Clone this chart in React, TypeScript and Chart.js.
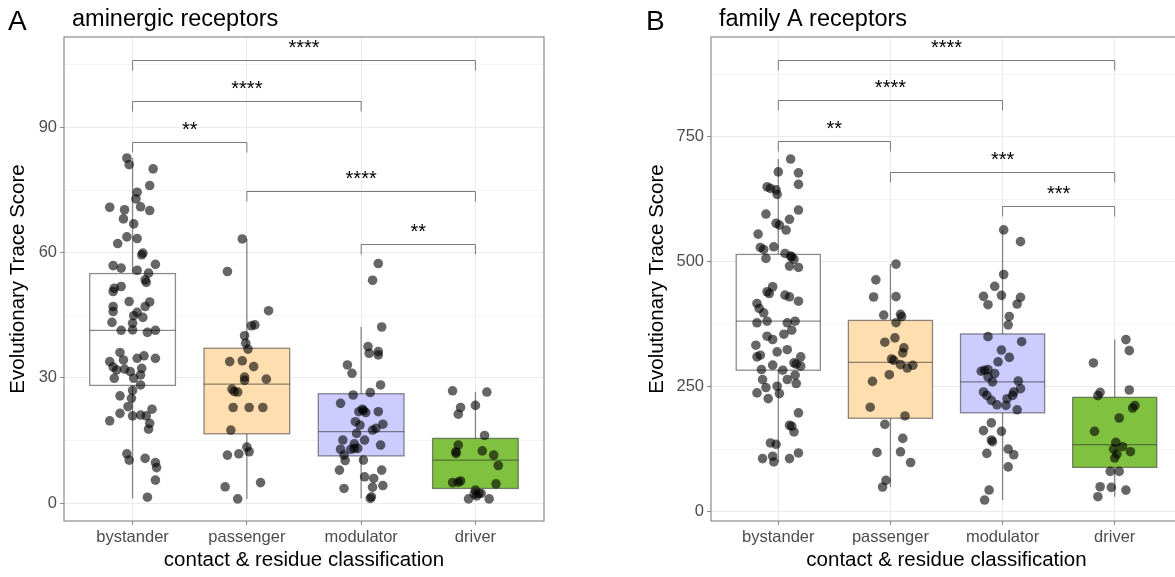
import React, { useEffect, useRef } from "react";
import { Chart, registerables } from "chart.js";

Chart.register(...registerables);

const FONT = "'Liberation Sans', Arial, sans-serif";

// ---------- shared ----------
const categories = ["bystander", "passenger", "modulator", "driver"];
const boxFills = ["#FFFFFF", "#FFDFB0", "#CCCCFF", "#80C140"];
const xAxisTitle = "contact & residue classification";
const yAxisTitle = "Evolutionary Trace Score";

// ---------- panel A : aminergic receptors ----------
const aYMajor = [0, 30, 60, 90];
const aYMinor = [15, 45, 75, 105];
const aQ1 = [28.2, 16.6, 11.3, 3.5];
const aMedian = [41.4, 28.5, 17.1, 10.3];
const aQ3 = [55.0, 37.1, 26.2, 15.5];
const aWhiskerLow = [1.1, 1.0, 1.1, 1.0];
const aWhiskerHigh = [82.7, 63.3, 42.2, 26.7];

const aBystander = [82.7, 81.1, 80.1, 76.1, 74.5, 72.9, 70.9, 70.3, 71.0, 70.1, 68.1, 66.9, 63.8, 62.2, 63.4, 59.9, 59.5, 56.9, 56.3, 57.2, 55.8, 55.1, 53.5, 52.9, 51.5, 51.9, 50.7, 48.3, 48.2, 47.1, 47.1, 45.9, 45.7, 44.9, 44.5, 43.3, 43.1, 41.4, 41.5, 40.9, 41.4, 36.1, 33.9, 34.3, 34.7, 35.3, 34.7, 32.6, 31.9, 32.1, 31.5, 32.3, 30.7, 29.9, 29.9, 28.3, 27.0, 25.1, 25.7, 23.1, 21.5, 19.7, 20.9, 21.1, 22.5, 20.9, 19.1, 17.7, 11.8, 10.3, 10.7, 9.7, 8.5, 5.5, 1.4];
const aBystanderJitter = [-0.05, -0.03, 0.18, 0.15, 0.04, 0.03, -0.2, -0.07, 0.07, 0.15, -0.08, 0.01, -0.05, -0.13, 0.04, 0.09, 0.08, -0.17, -0.1, 0.2, 0.04, 0.14, 0.11, 0.12, -0.16, -0.1, -0.17, -0.03, 0.15, 0.11, -0.17, -0.17, 0.04, 0.01, 0.09, -0.18, 0.0, -0.1, 0.0, 0.13, 0.2, -0.11, -0.2, -0.08, 0.04, 0.1, 0.2, -0.17, -0.14, -0.07, -0.02, 0.08, 0.07, -0.16, 0.01, 0.07, 0.0, -0.01, -0.11, -0.04, -0.11, -0.2, 0.0, 0.07, 0.17, 0.12, 0.15, 0.14, -0.05, -0.03, 0.11, 0.2, 0.21, 0.2, 0.13];
const aPassenger = [63.3, 55.5, 46.1, 42.5, 42.7, 40.1, 38.3, 36.9, 33.9, 34.1, 32.7, 30.2, 29.4, 29.7, 27.3, 26.7, 26.6, 22.9, 22.9, 22.9, 17.5, 13.4, 12.3, 11.5, 11.8, 3.9, 4.9, 1.0];
const aPassengerJitter = [-0.04, -0.17, 0.19, 0.04, 0.07, -0.02, -0.01, 0.01, -0.15, -0.04, 0.06, -0.02, -0.02, 0.17, -0.13, -0.11, -0.08, -0.12, 0.02, 0.14, -0.14, 0.0, 0.02, -0.17, -0.07, -0.19, 0.12, -0.08];
const aModulator = [57.4, 53.4, 42.2, 37.5, 35.9, 36.3, 35.5, 33.1, 31.1, 28.3, 26.5, 25.9, 23.9, 22.5, 22.2, 21.9, 21.7, 21.9, 19.5, 18.9, 18.7, 17.9, 17.5, 16.7, 15.1, 15.1, 13.9, 14.2, 12.9, 12.9, 13.1, 13.1, 11.5, 10.2, 10.3, 7.9, 7.9, 6.3, 5.9, 4.2, 3.5, 3.8, 1.5, 1.1];
const aModulatorJitter = [0.15, 0.1, 0.18, 0.06, 0.07, 0.15, 0.15, -0.12, -0.08, 0.17, 0.08, -0.07, -0.18, 0.01, 0.02, -0.02, 0.04, 0.15, -0.05, 0.19, -0.01, 0.13, 0.1, -0.04, -0.16, 0.03, 0.17, -0.06, -0.18, -0.09, -0.06, -0.03, -0.15, -0.14, 0.02, -0.19, 0.18, 0.03, 0.11, 0.19, -0.15, 0.1, 0.09, 0.08];
const aDriver = [26.9, 26.6, 22.9, 21.3, 23.4, 16.2, 13.9, 12.3, 11.9, 12.5, 11.5, 9.0, 4.9, 5.3, 5.0, 4.6, 3.1, 2.2, 2.3, 1.0, 2.3, 1.0, 1.7];
const aDriverJitter = [-0.2, 0.1, -0.13, -0.15, 0.0, 0.08, -0.15, -0.17, -0.17, 0.06, 0.16, 0.2, -0.2, -0.13, -0.15, 0.18, 0.0, -0.01, 0.03, -0.06, 0.05, 0.12, 0.01];

const aBracketFrom = [1, 1, 1, 2, 3];
const aBracketTo = [4, 3, 2, 4, 4];
const aBracketY = [106.2, 96.4, 86.6, 74.8, 62.2];
const aBracketLabel = ["****", "****", "**", "****", "**"];

// ---------- panel B : family A receptors ----------
const bYMajor = [0, 250, 500, 750];
const bYMinor = [125, 375, 625, 875];
const bQ1 = [282.9, 186.7, 197.6, 88.3];
const bMedian = [381, 298.7, 259.4, 133.8];
const bQ3 = [514.7, 382.6, 355.5, 228.6];
const bWhiskerLow = [99, 49, 22.9, 29.6];
const bWhiskerHigh = [705.7, 495.3, 563.8, 344.2];

const bBystander = [705.7, 680, 678, 655, 650, 647, 644, 635, 603.5, 595.5, 585, 577, 573.5, 563.5, 555.4, 528.7, 530, 524.7, 516.7, 511.4, 510, 504.7, 506.7, 491.3, 488.6, 450, 440, 436.5, 433.2, 429.9, 421, 416.5, 406.5, 397.8, 377.8, 381, 377.8, 381, 363, 355, 351, 344.4, 333, 319.6, 324, 309.6, 312.9, 309.6, 297.6, 295, 291, 293, 282.9, 284.2, 264.2, 264.2, 272.9, 256.2, 248.2, 250.8, 237.5, 236.1, 226.1, 197.4, 172.7, 170.7, 159.3, 137.3, 134.6, 105.9, 110.6, 99.2, 105.9, 117.2];
const bBystanderJitter = [0.11, 0.0, 0.18, 0.18, -0.1, -0.07, -0.02, -0.01, 0.18, -0.11, 0.1, -0.02, 0.01, 0.07, -0.18, -0.16, -0.04, -0.13, 0.06, 0.11, 0.12, 0.14, -0.11, 0.1, 0.18, -0.05, -0.1, -0.08, 0.06, 0.1, 0.18, -0.19, -0.17, -0.13, -0.19, -0.1, 0.08, 0.15, 0.12, 0.05, -0.1, -0.05, -0.2, -0.01, 0.08, -0.19, -0.16, 0.2, 0.14, 0.16, 0.2, -0.05, 0.04, -0.15, -0.14, 0.08, 0.15, 0.16, -0.11, -0.01, -0.19, 0.01, -0.09, 0.18, 0.1, 0.12, 0.14, -0.07, -0.02, -0.14, -0.05, -0.04, 0.1, 0.18];
const bPassenger = [495.3, 463.8, 429.5, 430.2, 393.3, 394.7, 390, 378, 347.7, 339, 327.6, 317.5, 305.4, 302.7, 294, 287.3, 292.7, 273.9, 260.5, 208.8, 191.3, 174.6, 146.4, 118.2, 119.6, 98.1, 62.5, 49.1];
const bPassengerJitter = [0.05, -0.13, -0.15, 0.05, -0.06, 0.09, 0.1, 0.05, 0.04, -0.05, 0.12, 0.11, 0.01, 0.03, 0.09, 0.15, 0.2, -0.01, -0.16, -0.18, 0.13, -0.05, 0.11, -0.12, 0.09, 0.18, -0.04, -0.07];
const bModulator = [563.8, 540.3, 474.5, 450.9, 430.8, 432.8, 414, 428.8, 415.3, 390.5, 373.7, 350.1, 340, 323.3, 308.5, 299.7, 280.9, 282.9, 284.3, 276.2, 269.5, 259.4, 261.4, 246, 239.3, 232.5, 239.3, 232.5, 222.5, 225.8, 213.7, 212.4, 203.6, 177.4, 162, 160.6, 143.2, 139.8, 116.3, 125, 113.6, 89.4, 43, 22.9];
const bModulatorJitter = [0.01, 0.16, 0.01, -0.07, -0.17, -0.01, -0.13, 0.16, 0.13, 0.06, 0.05, -0.13, 0.17, -0.01, 0.06, -0.04, -0.19, -0.16, -0.13, -0.07, -0.13, -0.09, 0.14, 0.16, -0.17, -0.14, 0.1, 0.09, -0.1, 0.04, -0.05, 0.03, 0.13, -0.1, -0.17, -0.01, -0.1, -0.09, -0.14, 0.05, 0.1, 0.05, -0.12, -0.16];
const bDriver = [344.2, 322.1, 297.4, 238.6, 232, 243.3, 211.9, 207.2, 187.2, 160.5, 138.4, 125, 129.8, 119.7, 115, 107, 80.3, 80.3, 49.6, 48.3, 42.9, 29.6];
const bDriverJitter = [0.1, 0.13, -0.19, -0.13, -0.15, 0.13, 0.18, 0.16, 0.04, -0.18, 0.01, -0.01, 0.07, 0.14, 0.02, 0.0, -0.04, 0.04, -0.13, -0.03, 0.1, -0.15];

const bBracketFrom = [1, 1, 1, 2, 3];
const bBracketTo = [4, 3, 2, 4, 4];
const bBracketY = [904, 823, 741, 679, 611];
const bBracketLabel = ["****", "****", "**", "***", "***"];

// ---------- styling ----------
const LINE = "rgba(45,45,45,0.55)";
const BORDER = "#8C8C8C";
const TEXT_GRAY = "#4D4D4D";

type PanelCfg = {
  letter: string;
  title: string;
  yMin: number;
  yMax: number;
  yMajor: number[];
  yMinor: number[];
  q1: number[];
  med: number[];
  q3: number[];
  wLow: number[];
  wHigh: number[];
  groups: number[][];
  jitters: number[][];
  bFrom: number[];
  bTo: number[];
  bY: number[];
  bLabel: string[];
  padLeft: number;
  yScaleWidth: number;
  padRight: number;
  width: number;
};

const panelA: PanelCfg = {
  letter: "A",
  title: "aminergic receptors",
  yMin: -4.3,
  yMax: 111.7,
  yMajor: aYMajor,
  yMinor: aYMinor,
  q1: aQ1,
  med: aMedian,
  q3: aQ3,
  wLow: aWhiskerLow,
  wHigh: aWhiskerHigh,
  groups: [aBystander, aPassenger, aModulator, aDriver],
  jitters: [aBystanderJitter, aPassengerJitter, aModulatorJitter, aDriverJitter],
  bFrom: aBracketFrom,
  bTo: aBracketTo,
  bY: aBracketY,
  bLabel: aBracketLabel,
  padLeft: 0,
  yScaleWidth: 64,
  padRight: 46,
  width: 590,
};

const panelB: PanelCfg = {
  letter: "B",
  title: "family A receptors",
  yMin: -19,
  yMax: 950,
  yMajor: bYMajor,
  yMinor: bYMinor,
  q1: bQ1,
  med: bMedian,
  q3: bQ3,
  wLow: bWhiskerLow,
  wHigh: bWhiskerHigh,
  groups: [bBystander, bPassenger, bModulator, bDriver],
  jitters: [bBystanderJitter, bPassengerJitter, bModulatorJitter, bDriverJitter],
  bFrom: bBracketFrom,
  bTo: bBracketTo,
  bY: bBracketY,
  bLabel: bBracketLabel,
  padLeft: 49,
  yScaleWidth: 72,
  padRight: 8,
  width: 600,
};

const BOX_HALF = 0.375;

function makePlugin(cfg: PanelCfg) {
  return {
    id: "boxplot" + cfg.letter,
    beforeDatasetsDraw(chart: any) {
      const { ctx } = chart;
      const x = chart.scales.x;
      const y = chart.scales.y;
      ctx.save();
      for (let i = 0; i < categories.length; i++) {
        const c = i + 1;
        const xl = x.getPixelForValue(c - BOX_HALF);
        const xr = x.getPixelForValue(c + BOX_HALF);
        const xc = x.getPixelForValue(c);
        const y1 = y.getPixelForValue(cfg.q1[i]);
        const y3 = y.getPixelForValue(cfg.q3[i]);
        const ym = y.getPixelForValue(cfg.med[i]);
        const yl = y.getPixelForValue(cfg.wLow[i]);
        const yh = y.getPixelForValue(cfg.wHigh[i]);
        ctx.strokeStyle = LINE;
        ctx.lineWidth = 1.3;
        // whiskers
        ctx.beginPath();
        ctx.moveTo(xc, y3);
        ctx.lineTo(xc, yh);
        ctx.moveTo(xc, y1);
        ctx.lineTo(xc, yl);
        ctx.stroke();
        // box
        ctx.fillStyle = boxFills[i];
        ctx.fillRect(xl, y3, xr - xl, y1 - y3);
        ctx.strokeRect(xl, y3, xr - xl, y1 - y3);
        // median
        ctx.beginPath();
        ctx.moveTo(xl, ym);
        ctx.lineTo(xr, ym);
        ctx.stroke();
      }
      ctx.restore();
    },
    afterDatasetsDraw(chart: any) {
      const { ctx } = chart;
      const x = chart.scales.x;
      const y = chart.scales.y;
      ctx.save();
      ctx.strokeStyle = "#7A7A7A";
      ctx.lineWidth = 1;
      ctx.fillStyle = "#000";
      ctx.font = `20px ${FONT}`;
      ctx.textAlign = "center";
      ctx.textBaseline = "alphabetic";
      for (let k = 0; k < cfg.bY.length; k++) {
        const x1 = x.getPixelForValue(cfg.bFrom[k]);
        const x2 = x.getPixelForValue(cfg.bTo[k]);
        const yy = Math.round(y.getPixelForValue(cfg.bY[k])) + 0.5;
        ctx.beginPath();
        ctx.moveTo(x1, yy + 10);
        ctx.lineTo(x1, yy);
        ctx.lineTo(x2, yy);
        ctx.lineTo(x2, yy + 10);
        ctx.stroke();
        ctx.fillText(cfg.bLabel[k], (x1 + x2) / 2, yy - 7);
      }
      ctx.restore();
    },
    afterDraw(chart: any) {
      const { ctx, chartArea } = chart;
      ctx.save();
      ctx.strokeStyle = BORDER;
      ctx.lineWidth = 1.2;
      ctx.strokeRect(chartArea.left, chartArea.top, chartArea.right - chartArea.left, chartArea.bottom - chartArea.top);
      ctx.fillStyle = "#000";
      ctx.textBaseline = "alphabetic";
      ctx.textAlign = "left";
      ctx.font = `28px ${FONT}`;
      ctx.fillText(cfg.letter, cfg.letter === "A" ? 8 : 56, 30);
      ctx.font = `23.5px ${FONT}`;
      ctx.fillText(cfg.title, chartArea.left + 8, 26);
      ctx.restore();
    },
  };
}

function Panel({ cfg, left }: { cfg: PanelCfg; left: number }) {
  const ref = useRef<HTMLCanvasElement>(null);
  useEffect(() => {
    if (!ref.current) return;
    const datasets = cfg.groups.map((vals, i) => ({
      type: "scatter" as const,
      data: vals.map((v, j) => ({ x: i + 1 + (cfg.jitters[i][j] ?? 0), y: v })),
      pointRadius: 4.8,
      pointHoverRadius: 4.8,
      pointBackgroundColor: "rgba(0,0,0,0.6)",
      pointBorderWidth: 0,
      borderWidth: 0,
      backgroundColor: "rgba(0,0,0,0.6)",
    }));
    const allY = [...cfg.yMajor, ...cfg.yMinor].sort((a, b) => a - b);
    const chart = new Chart(ref.current, {
      type: "scatter",
      data: { datasets },
      options: {
        animation: false,
        responsive: false,
        devicePixelRatio: 1,
        events: [],
        layout: { padding: { left: cfg.padLeft, right: cfg.padRight, top: 37, bottom: 0 } },
        plugins: { legend: { display: false }, tooltip: { enabled: false }, title: { display: false } },
        scales: {
          x: {
            type: "linear",
            min: 0.4,
            max: 4.6,
            afterBuildTicks: (scale: any) => {
              scale.ticks = categories.map((_, i) => ({ value: i + 1 }));
            },
            afterFit: (scale: any) => {
              scale.height = 56;
            },
            border: { display: false },
            grid: { color: "#EBEBEB", lineWidth: 1, tickColor: BORDER, tickLength: 4, drawTicks: true },
            ticks: {
              autoSkip: false,
              maxRotation: 0,
              padding: 3,
              color: TEXT_GRAY,
              font: { family: FONT, size: 16.5 },
              callback: (v: any) => categories[Math.round(Number(v)) - 1] ?? "",
            },
            title: {
              display: true,
              text: xAxisTitle,
              color: "#000",
              font: { family: FONT, size: 20.5 },
              padding: { top: 0, bottom: 4 },
            },
          },
          y: {
            type: "linear",
            min: cfg.yMin,
            max: cfg.yMax,
            afterBuildTicks: (scale: any) => {
              scale.ticks = allY.map((v) => ({ value: v }));
            },
            afterFit: (scale: any) => {
              scale.width = cfg.yScaleWidth;
            },
            border: { display: false },
            grid: {
              color: (c: any) => (cfg.yMajor.includes(c.tick?.value) ? "#EBEBEB" : "#F4F4F4"),
              lineWidth: 1,
              tickColor: (c: any) => (cfg.yMajor.includes(c.tick?.value) ? BORDER : "rgba(0,0,0,0)"),
              tickLength: 4,
              drawTicks: true,
            },
            ticks: {
              autoSkip: false,
              padding: 3,
              color: TEXT_GRAY,
              font: { family: FONT, size: 16.5 },
              callback: (v: any) => (cfg.yMajor.includes(Number(v)) ? String(v) : ""),
            },
            title: {
              display: true,
              text: yAxisTitle,
              color: "#000",
              font: { family: FONT, size: 20.5 },
              padding: { top: 6, bottom: 0 },
            },
          },
        },
      },
      plugins: [makePlugin(cfg)],
    } as any);
    return () => chart.destroy();
  }, [cfg]);
  return (
    <canvas
      ref={ref}
      width={cfg.width}
      height={577}
      style={{ position: "absolute", left, top: 0, width: cfg.width, height: 577 }}
    />
  );
}

export default function App() {
  return (
    <div
      style={{
        position: "fixed",
        left: 0,
        top: 0,
        width: 1175,
        height: 577,
        overflow: "hidden",
        background: "#FFFFFF",
      }}
    >
      <Panel cfg={panelA} left={0} />
      <Panel cfg={panelB} left={590} />
    </div>
  );
}
